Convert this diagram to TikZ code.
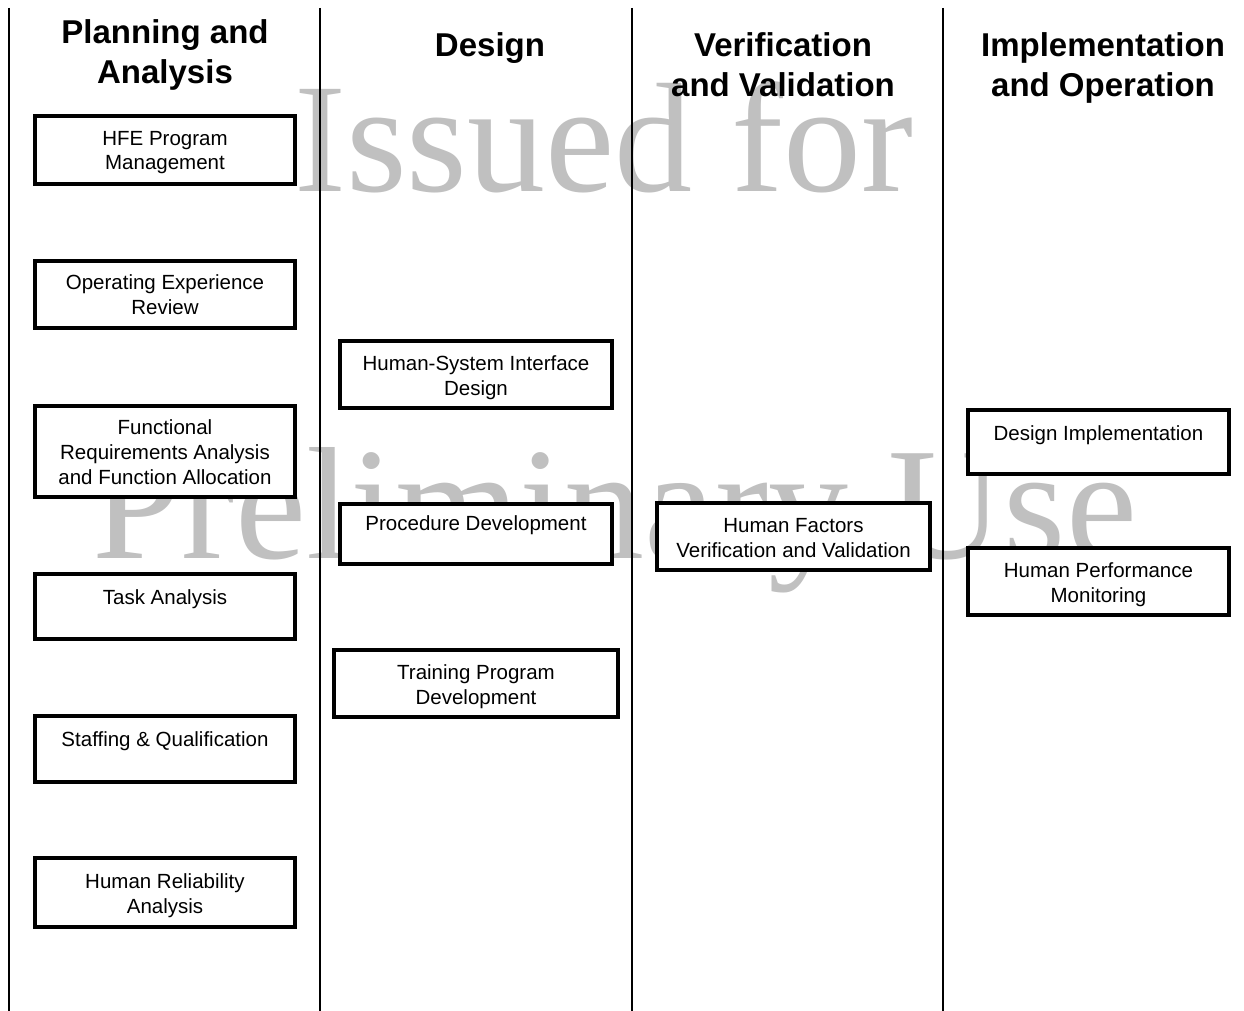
\documentclass[tikz,border=0pt]{standalone}
\usepackage{fontspec}
\setmainfont{Liberation Sans}
\newfontfamily\markfont{Liberation Serif}
\definecolor{markgray}{HTML}{C0C0C0}
\begin{document}
\begin{tikzpicture}[x=1pt,y=-1pt,
  phase/.style={font=\fontsize{33}{40}\selectfont\bfseries, align=center, inner sep=0pt, anchor=base},
  % box size: width, space above the last baseline, space below it
  stage/.style n args={3}{draw, line width=4pt, fill=white, align=center, inner sep=0pt,
    font=\fontsize{20.5}{24.6}\selectfont,
    minimum width=#1, text height=#2, text depth=#3},
  lane/.style={line width=1.6pt},
  watermark/.style={text=markgray, font=\markfont\fontsize{#1}{#1}\selectfont, inner sep=0pt, anchor=base}]
\useasboundingbox (0,0) rectangle (1244,1011);
\fill[white] (0,0) rectangle (1244,1011);

% watermark
\node[watermark=156] (wm1) at (604,192) {Issued for};
\node[watermark=160] (wm2) at (615,558) {Preliminary Use};

% lane separators
\coordinate (l1t) at (9,8);   \coordinate (l1b) at (9,1011);
\coordinate (l2t) at (320,8); \coordinate (l2b) at (320,1011);
\coordinate (l3t) at (632,8); \coordinate (l3b) at (632,1011);
\coordinate (l4t) at (943,8); \coordinate (l4b) at (943,1011);
\draw[lane] (l1t) -- (l1b);
\draw[lane] (l2t) -- (l2b);
\draw[lane] (l3t) -- (l3b);
\draw[lane] (l4t) -- (l4b);

% phase headings (anchored at the baseline of the last line)
\node[phase] (h1) at (165,84) {Planning and\\Analysis};
\node[phase] (h2) at (490,57) {Design};
\node[phase] (h3) at (783,97) {Verification\\and Validation};
\node[phase] (h4) at (1103,97) {Implementation\\and Operation};

% planning and analysis
\node[stage={260pt}{54pt}{14pt}] (hfe) at (165,150) {HFE Program\\Management};
\node[stage={260pt}{53pt}{14pt}] (oer) at (165,294.5) {Operating Experience\\Review};
\node[stage={260pt}{78pt}{13pt}] (fra) at (165,451.5) {Functional\\Requirements Analysis\\and Function Allocation};
\node[stage={260pt}{30pt}{35pt}] (ta) at (165,606.5) {Task Analysis};
\node[stage={260pt}{30pt}{36pt}] (sq) at (165,749) {Staffing \& Qualification};
\node[stage={260pt}{55pt}{14pt}] (hra) at (165,892.5) {Human Reliability\\Analysis};

% design
\node[stage={272pt}{54pt}{13pt}] (hsi) at (476,374.5) {Human-System Interface\\Design};
\node[stage={272pt}{26pt}{34pt}] (pd) at (476,534) {Procedure Development};
\node[stage={284pt}{54pt}{13pt}] (tpd) at (476,683.5) {Training Program\\Development};

% verification and validation
\node[stage={273pt}{54pt}{13pt}] (vv) at (793.5,536.5) {Human Factors\\Verification and Validation};

% implementation and operation
\node[stage={261pt}{30pt}{34pt}] (di) at (1098.5,442) {Design Implementation};
\node[stage={261pt}{54pt}{13pt}] (hpm) at (1098.5,581.5) {Human Performance\\Monitoring};
\end{tikzpicture}
\end{document}
